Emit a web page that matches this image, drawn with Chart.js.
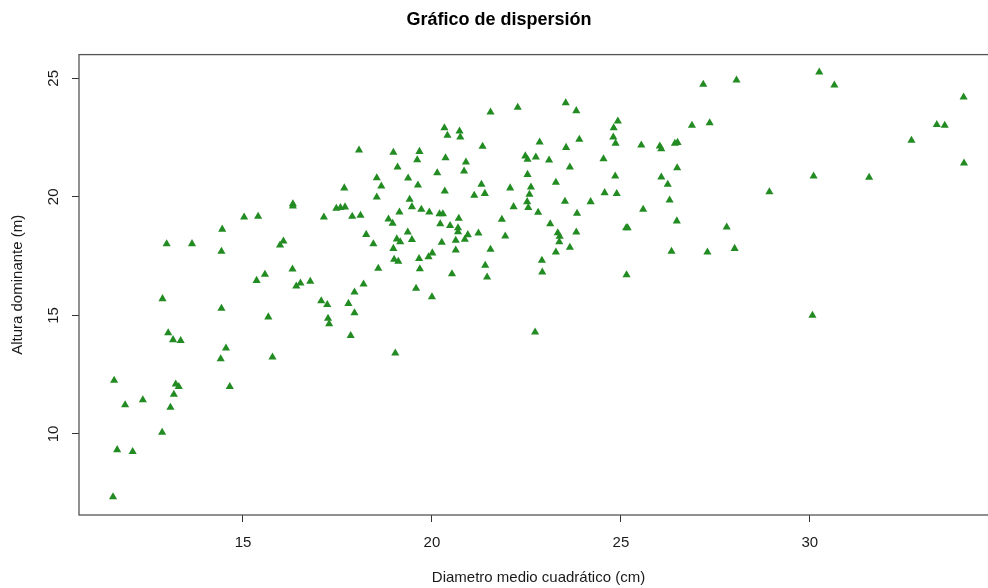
<!DOCTYPE html>
<html>
<head>
<meta charset="utf-8">
<script src="https://cdn.jsdelivr.net/npm/chart.js@4.4.1/dist/chart.umd.min.js"></script>
<style>
  html, body { margin: 0; padding: 0; background: #fff; overflow: hidden; }
  #wrap { width: 988px; height: 588px; overflow: hidden; }
</style>
</head>
<body>
<div id="wrap"><canvas id="disp" width="1010" height="588"></canvas></div>
<script>
// diametro medio cuadratico (cm)
const diametro = [
  18.07, 18.54, 18.66, 17.68, 18.54, 16.32, 16.32, 15.03, 15.40, 17.14,
  17.47, 17.58, 17.70, 17.89, 18.11, 18.85, 14.45, 18.26, 18.45, 12.98,
  13.65, 14.43, 16.07, 15.98, 18.58, 16.31, 15.58, 15.36, 16.78, 16.52,
  16.41, 18.19, 17.95, 12.87, 14.43, 17.07, 17.23, 17.79, 17.95, 15.67,
  17.25, 17.28, 17.85, 13.02, 13.15, 13.35, 14.55, 14.41, 15.78, 11.59,
  13.22, 13.30, 13.17, 14.65, 12.35, 11.88, 13.08, 12.86, 11.67, 12.08,
  11.56, 21.55, 22.27, 23.54, 23.82, 24.92, 24.81, 26.88, 20.33, 20.41,
  20.73, 20.75, 24.80, 24.86, 23.90, 22.85, 25.54, 26.03, 26.07, 26.43,
  26.50, 21.34, 23.55, 18.98, 19.67, 19.61, 20.36, 20.90, 20.85, 19.09,
  20.14, 22.47, 22.53, 22.75, 23.10, 23.65, 24.54, 26.49, 22.53, 19.37,
  19.63, 21.31, 20.34, 21.12, 21.40, 22.07, 22.62, 23.28, 22.58, 22.52,
  22.55, 22.16, 22.81, 23.52, 24.20, 24.57, 24.89, 24.85, 26.07, 26.24,
  26.29, 25.59, 26.48, 23.84, 23.13, 23.33, 23.38, 23.37, 23.82, 23.65,
  23.28, 25.14, 25.18, 26.34, 25.15, 22.91, 22.92, 21.85, 21.94, 21.55,
  21.41, 21.46, 20.53, 19.58, 19.68, 19.66, 19.91, 20.01, 19.00, 19.11,
  18.98, 19.07, 19.16, 19.47, 19.36, 20.26, 20.63, 20.63, 20.87, 20.95,
  21.23, 20.69, 20.69, 20.71, 20.48, 20.22, 20.20, 20.29, 19.93, 19.72,
  19.47, 19.41, 19.14, 18.96, 27.18, 28.06, 30.25, 30.65, 34.07, 27.35,
  33.36, 33.57, 32.69, 34.08, 30.10, 31.57, 28.93, 27.80, 27.29, 28.01,
  30.07, 20.00, 22.73, 19.03
];

// altura dominante (m)
const altura = [
  21.97, 20.80, 20.45, 20.37, 19.99, 19.70, 19.61, 19.14, 19.17, 19.14,
  19.51, 19.54, 19.57, 19.17, 19.22, 19.06, 18.63, 18.41, 18.01, 18.01,
  18.02, 17.70, 18.13, 17.96, 16.98, 16.95, 16.73, 16.47, 16.43, 16.36,
  16.23, 16.32, 15.98, 15.70, 15.29, 15.61, 15.45, 15.50, 15.10, 14.93,
  14.87, 14.64, 14.14, 14.26, 13.97, 13.93, 13.62, 13.16, 13.24, 12.26,
  12.10, 11.99, 11.67, 11.99, 11.43, 11.22, 11.12, 10.06, 9.33, 9.25,
  7.34, 23.57, 23.77, 23.96, 23.63, 23.19, 22.91, 23.01, 22.91, 22.59,
  22.77, 22.52, 22.52, 22.25, 22.42, 22.31, 22.18, 22.14, 22.02, 22.25,
  22.29, 22.13, 22.08, 21.87, 21.91, 21.56, 21.64, 21.46, 21.08, 21.25,
  21.01, 21.72, 21.58, 21.67, 21.55, 21.25, 21.60, 21.22, 20.94, 20.79,
  20.49, 20.52, 20.24, 20.06, 20.14, 20.37, 20.41, 20.61, 20.10, 19.79,
  19.54, 19.58, 19.34, 19.81, 19.79, 20.17, 20.13, 20.87, 20.83, 20.52,
  19.86, 19.47, 18.98, 19.30, 18.86, 18.48, 18.33, 18.10, 18.51, 17.87,
  17.67, 18.69, 18.69, 17.70, 16.71, 17.32, 16.82, 19.05, 18.34, 17.78,
  17.11, 16.61, 16.75, 16.14, 16.96, 17.39, 17.47, 17.63, 17.36, 17.28,
  17.82, 18.22, 18.10, 18.19, 18.51, 18.08, 18.16, 17.75, 18.20, 18.40,
  18.47, 18.69, 18.52, 19.09, 18.78, 18.86, 19.28, 19.28, 19.35, 19.47,
  19.58, 19.89, 19.35, 18.88, 24.74, 24.92, 25.26, 24.71, 24.20, 23.12,
  23.04, 23.01, 22.38, 21.42, 20.87, 20.82, 20.21, 18.72, 17.67, 17.82,
  15.00, 15.78, 14.29, 13.41
];

const xTicks = [15, 20, 25, 30];
const yTicks = [10, 15, 20, 25];

const fontFam = "'Liberation Sans', Arial, Helvetica, sans-serif";
const textCol = '#1a1a1a';

const puntos = diametro.map((d, i) => ({ x: d, y: altura[i] }));

// caja alrededor del area + etiquetas del eje y giradas (como en R)
const boxPlugin = {
  id: 'boxPlugin',
  afterDraw(chart) {
    const ctx = chart.ctx;
    const a = chart.chartArea;
    ctx.save();
    ctx.strokeStyle = '#555';
    ctx.lineWidth = 1.3;
    ctx.strokeRect(a.left, a.top, a.right - a.left, a.bottom - a.top);

    const ys = chart.scales.y;
    ctx.fillStyle = textCol;
    ctx.font = '15px ' + fontFam;
    ctx.textAlign = 'center';
    ctx.textBaseline = 'middle';
    yTicks.forEach(v => {
      ctx.save();
      ctx.translate(54, ys.getPixelForValue(v));
      ctx.rotate(-Math.PI / 2);
      ctx.fillText(String(v), 0, 0);
      ctx.restore();
    });
    ctx.restore();
  }
};

const grafico = new Chart(document.getElementById('disp'), {
  type: 'scatter',
  data: {
    datasets: [{
      label: 'Altura',
      data: puntos,
      pointStyle: 'triangle',
      pointRadius: 4.7,
      backgroundColor: '#228B22',
      borderColor: '#228B22',
      borderWidth: 0
    }]
  },
  options: {
    responsive: false,
    animation: false,
    devicePixelRatio: 1,
    layout: { padding: { left: 0, right: 12, top: 0, bottom: 0 } },
    plugins: {
      legend: { display: false },
      tooltip: { enabled: false },
      title: {
        display: true,
        text: 'Gráfico de dispersión',
        color: '#000',
        font: { family: fontFam, size: 18, weight: 'bold' },
        padding: { top: 9, bottom: 24 }
      }
    },
    scales: {
      x: {
        type: 'linear',
        min: 10.66,
        max: 34.98,
        afterBuildTicks: s => { s.ticks = xTicks.map(v => ({ value: v })); },
        afterFit: s => { s.height = 73; },
        grid: { drawOnChartArea: false, drawTicks: true, tickLength: 7, color: '#333', lineWidth: 1 },
        border: { display: false },
        ticks: {
          color: textCol,
          font: { family: fontFam, size: 15 },
          padding: 12,
          maxRotation: 0,
          autoSkip: false,
          callback: v => String(v)
        },
        title: {
          display: true,
          text: 'Diametro medio cuadrático (cm)',
          color: textCol,
          font: { family: fontFam, size: 15 },
          padding: { top: 0, bottom: 1 }
        }
      },
      y: {
        type: 'linear',
        min: 6.58,
        max: 26.0,
        afterBuildTicks: s => { s.ticks = yTicks.map(v => ({ value: v })); },
        afterFit: s => { s.width = 79; },
        grid: { drawOnChartArea: false, drawTicks: true, tickLength: 7, color: '#333', lineWidth: 1 },
        border: { display: false },
        ticks: { display: false },
        title: {
          display: true,
          text: 'Altura dominante (m)',
          color: textCol,
          font: { family: fontFam, size: 15 },
          padding: { top: 9, bottom: 0 }
        }
      }
    }
  },
  plugins: [boxPlugin]
});
</script>
</body>
</html>
